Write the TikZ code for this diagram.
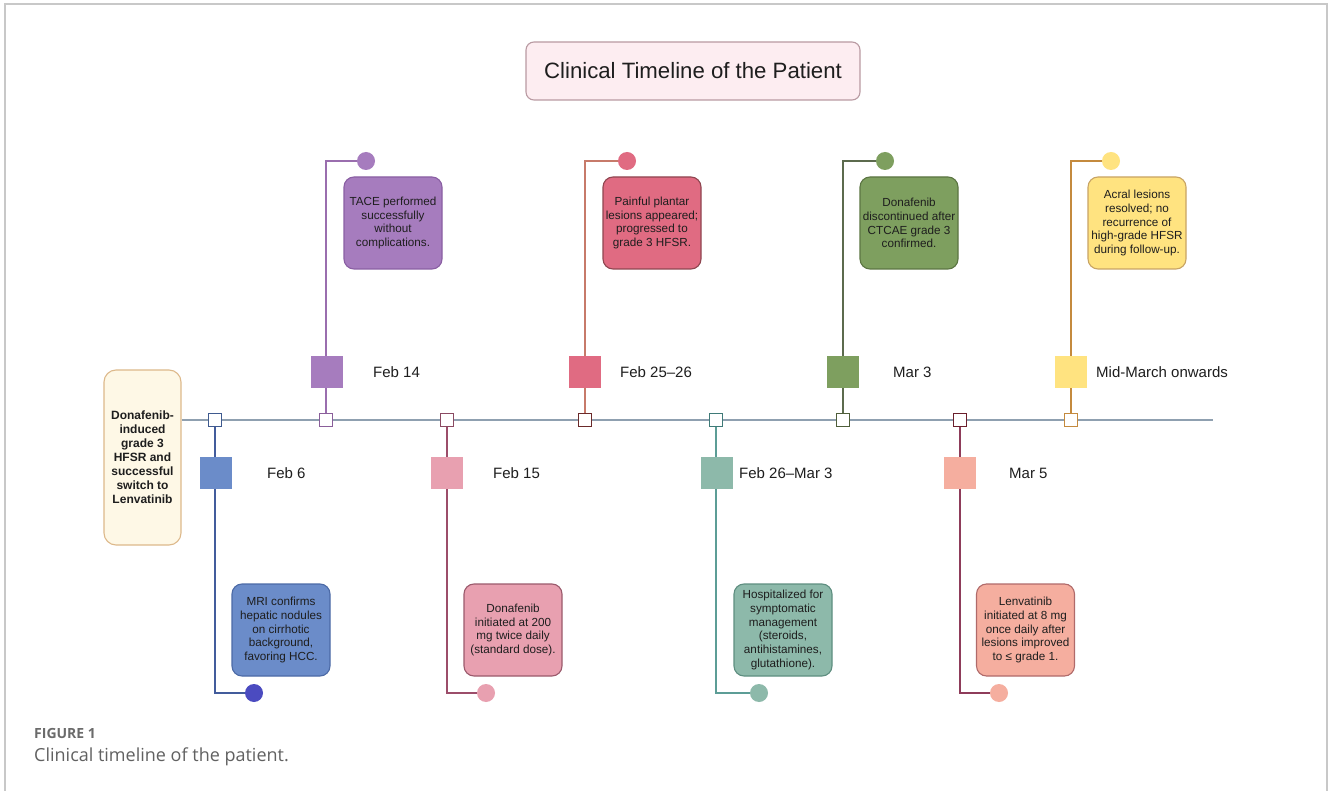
\documentclass[tikz,border=0pt]{standalone}
\usepackage{fontspec}
\setmainfont{Liberation Sans}
\newfontfamily\capfont{Open Sans}
\usetikzlibrary{backgrounds}
\definecolor{frame}{HTML}{C8C8C8}
\definecolor{tlc}{HTML}{8FA0B0}
\definecolor{titlefill}{HTML}{FDEDF1}
\definecolor{titledraw}{HTML}{B99AA2}
\definecolor{lbfill}{HTML}{FEF8E6}
\definecolor{lbdraw}{HTML}{DDB98B}
% event colours: fill, box border, line, tick border, circle
\definecolor{aF}{HTML}{6B8CC9}\definecolor{aB}{HTML}{4C6AA6}\definecolor{aL}{HTML}{435C9C}\definecolor{aT}{HTML}{3F5A8F}\definecolor{aC}{HTML}{4B4BC0}
\definecolor{bF}{HTML}{A67CBE}\definecolor{bB}{HTML}{8A5FA3}\definecolor{bL}{HTML}{9A6EAE}\definecolor{bT}{HTML}{8A5E9A}
\definecolor{cF}{HTML}{E8A0B0}\definecolor{cB}{HTML}{9B5A6C}\definecolor{cL}{HTML}{9C4D6A}\definecolor{cT}{HTML}{8B4A62}
\definecolor{dF}{HTML}{E06B82}\definecolor{dB}{HTML}{8F4650}\definecolor{dL}{HTML}{C77A6A}\definecolor{dT}{HTML}{6B2A2A}
\definecolor{eF}{HTML}{8DB9AA}\definecolor{eB}{HTML}{5E8E80}\definecolor{eL}{HTML}{5C9D96}\definecolor{eT}{HTML}{3F7A78}
\definecolor{fF}{HTML}{7E9F5F}\definecolor{fB}{HTML}{5B7542}\definecolor{fL}{HTML}{5C6B4E}\definecolor{fT}{HTML}{4F5E3A}
\definecolor{gF}{HTML}{F5AE9F}\definecolor{gB}{HTML}{B06A6A}\definecolor{gL}{HTML}{8E3C5A}\definecolor{gT}{HTML}{6B1F2C}
\definecolor{hF}{HTML}{FFE380}\definecolor{hB}{HTML}{C8A464}\definecolor{hL}{HTML}{C48A3E}\definecolor{hT}{HTML}{C48A3E}
\definecolor{txt}{HTML}{1E1E1E}
\tikzset{
  tick/.style={draw, fill=white, minimum size=13, inner sep=0, line width=1.8},
  bigsq/.style={fill, minimum size=32, inner sep=0},
  datelbl/.style={anchor=west, inner sep=0, font=\fontsize{15}{17}\selectfont, text=txt},
  evbox/.style={draw, rounded corners=10, minimum width=98, minimum height=92, inner sep=0, line width=1.1, align=center, text=txt, font=\fontsize{11.7}{13.7}\selectfont},
  dot/.style={circle, fill, minimum size=18, inner sep=0},
  conn/.style={line width=1.9},
}
\begin{document}
\begin{tikzpicture}[x=1pt, y=-1pt]
\useasboundingbox (0,0) rectangle (1328,791);

% title
\node[draw=titledraw, fill=titlefill, rounded corners=8, line width=1.1, minimum width=334, minimum height=58, inner sep=0, font=\fontsize{22.2}{25}\selectfont, text=txt] (title) at (693,71) {Clinical Timeline of the Patient};

% left summary box
\node[draw=lbdraw, fill=lbfill, rounded corners=12, line width=1.1, minimum width=77, minimum height=175, inner sep=0, align=center, font=\bfseries\fontsize{12}{14}\selectfont, text=txt] (lb) at (142.5,457.5)
 {Donafenib-\\induced\\grade 3\\HFSR and\\successful\\switch to\\Lenvatinib};

% ticks on the timeline
\node[tick, draw=aT] (t1) at (215,420) {};
\node[tick, draw=bT] (t2) at (326,420) {};
\node[tick, draw=cT] (t3) at (447,420) {};
\node[tick, draw=dT] (t4) at (585,420) {};
\node[tick, draw=eT] (t5) at (716,420) {};
\node[tick, draw=fT] (t6) at (843,420) {};
\node[tick, draw=gT] (t7) at (960,420) {};
\node[tick, draw=hT] (t8) at (1071,420) {};
\coordinate (tend) at (1213,420);

% big squares
\node[bigsq, aF] (s1) at (216,473) {};
\node[bigsq, bF] (s2) at (327,372) {};
\node[bigsq, cF] (s3) at (447,473) {};
\node[bigsq, dF] (s4) at (585,372) {};
\node[bigsq, eF] (s5) at (717,473) {};
\node[bigsq, fF] (s6) at (843,372) {};
\node[bigsq, gF] (s7) at (960,473) {};
\node[bigsq, hF] (s8) at (1071,372) {};

% date labels
\node[datelbl] (d1) at (267,473) {Feb 6};
\node[datelbl] (d2) at (373,372) {Feb 14};
\node[datelbl] (d3) at (493,473) {Feb 15};
\node[datelbl] (d4) at (620,372) {Feb 25–26};
\node[datelbl] (d5) at (739,473) {Feb 26–Mar 3};
\node[datelbl] (d6) at (893,372) {Mar 3};
\node[datelbl] (d7) at (1009,473) {Mar 5};
\node[datelbl] (d8) at (1096,372) {Mid-March onwards};

% event boxes
\node[evbox, draw=aB, fill=aF] (b1) at (281,630) {MRI confirms\\hepatic nodules\\on cirrhotic\\background,\\favoring HCC.};
\node[evbox, draw=bB, fill=bF] (b2) at (393,223) {TACE performed\\successfully\\without\\complications.};
\node[evbox, draw=cB, fill=cF] (b3) at (513,630) {Donafenib\\initiated at 200\\mg twice daily\\(standard dose).};
\node[evbox, draw=dB, fill=dF] (b4) at (652,223) {Painful plantar\\lesions appeared;\\progressed to\\grade 3 HFSR.};
\node[evbox, draw=eB, fill=eF] (b5) at (783,630) {Hospitalized for\\symptomatic\\management\\(steroids,\\antihistamines,\\glutathione).};
\node[evbox, draw=fB, fill=fF] (b6) at (909,223) {Donafenib\\discontinued after\\CTCAE grade 3\\confirmed.};
\node[evbox, draw=gB, fill=gF] (b7) at (1025.5,630) {Lenvatinib\\initiated at 8 mg\\once daily after\\lesions improved\\to ≤ grade 1.};
\node[evbox, draw=hB, fill=hF] (b8) at (1137,223) {Acral lesions\\resolved; no\\recurrence of\\high-grade HFSR\\during follow-up.};

% end dots
\node[dot, aC] (c1) at (254,693) {};
\node[dot, bF] (c2) at (366,161) {};
\node[dot, cF] (c3) at (486,693) {};
\node[dot, dF] (c4) at (627,161) {};
\node[dot, eF] (c5) at (759,693) {};
\node[dot, fF] (c6) at (885,161) {};
\node[dot, gF] (c7) at (999,693) {};
\node[dot, hF] (c8) at (1111,161) {};

% caption
\node[anchor=west, inner sep=0, text=black!58, font=\capfont\bfseries\fontsize{14}{16}\selectfont] (fig) at (34,733) {FIGURE 1};
\node[anchor=west, inner sep=0, text=black!62, font=\capfont\fontsize{18}{21}\selectfont] (cap) at (34,757) {Clinical timeline of the patient.};

\begin{scope}[on background layer]
\fill[white] (0,0) rectangle (1328,791);
\draw[frame, line width=1.5] (5,791) -- (5,4) -- (1327,4) -- (1327,791);
\draw[tlc, line width=1.6] (lb.east |- t1) -- (tend);
\draw[conn, aL] (t1.south) |- (c1.west);
\draw[conn, bL] (t2.north) |- (c2.west);
\draw[conn, cL] (t3.south) |- (c3.west);
\draw[conn, dL] (t4.north) |- (c4.west);
\draw[conn, eL] (t5.south) |- (c5.west);
\draw[conn, fL] (t6.north) |- (c6.west);
\draw[conn, gL] (t7.south) |- (c7.west);
\draw[conn, hL] (t8.north) |- (c8.west);
\end{scope}
\end{tikzpicture}
\end{document}
